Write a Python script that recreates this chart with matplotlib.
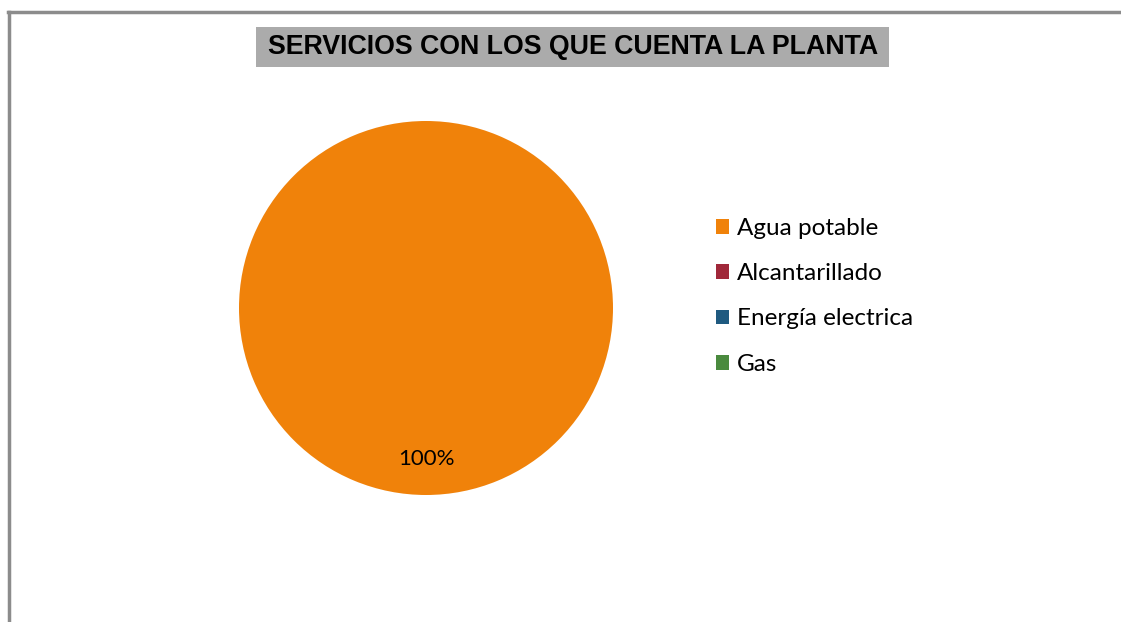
import matplotlib
matplotlib.use("Agg")
import numpy as np
import matplotlib.pyplot as plt
from matplotlib.patches import Rectangle
from matplotlib.lines import Line2D

# Data
services = ["Agua potable", "Alcantarillado", "Energía electrica", "Gas"]
values = [100, 0, 0, 0]
colors = ["#F0820A", "#A0283A", "#1F5A80", "#4A8A3E"]
title = "SERVICIOS CON LOS QUE CUENTA LA PLANTA"

W, H = 1121, 622
fig = plt.figure(figsize=(W / 100, H / 100), dpi=100)
fig.patch.set_facecolor("white")

# chart frame (gray border top and left)
fig.add_artist(Line2D([8 / W, 1], [1 - 12 / H, 1 - 12 / H], color="#8C8C8C", lw=2.5))
fig.add_artist(Line2D([8.5 / W, 8.5 / W], [0, 1 - 12 / H], color="#8C8C8C", lw=2.5))

# title with gray box
fig.add_artist(Rectangle((256 / W, 1 - 67 / H), 633 / W, 40 / H,
                         facecolor="#ABABAB", edgecolor="none", transform=fig.transFigure))
fig.text(573 / W, 1 - 46.5 / H, title, ha="center", va="center",
         fontsize=19.3, fontweight="bold", family="Liberation Sans")

# pie
cx, cy, r = 426, 308, 187
ax = fig.add_axes([(cx - r) / W, (H - cy - r) / H, 2 * r / W, 2 * r / H])
wedges, _ = ax.pie(values, colors=colors, startangle=90, counterclock=False,
                   radius=1, wedgeprops=dict(linewidth=0))
total = sum(values)
for w, v in zip(wedges, values):
    if v > 0:
        ang = np.deg2rad((w.theta1 + w.theta2) / 2)
        ax.text(0.81 * np.cos(ang), 0.81 * np.sin(ang), f"{v / total:.0%}",
                ha="center", va="center", fontsize=16, family="Lato")
ax.set_xlim(-1, 1)
ax.set_ylim(-1, 1)
ax.set_aspect("equal")
ax.axis("off")

# legend
fig.legend(wedges, services, loc="upper left", bbox_to_anchor=(694 / W, 1 - 196 / H),
           frameon=False, prop={"family": "Lato", "size": 17.5},
           handlelength=0.55, handleheight=0.55, handletextpad=0.3, labelspacing=1.0)

fig.savefig("out.png", dpi=100)
